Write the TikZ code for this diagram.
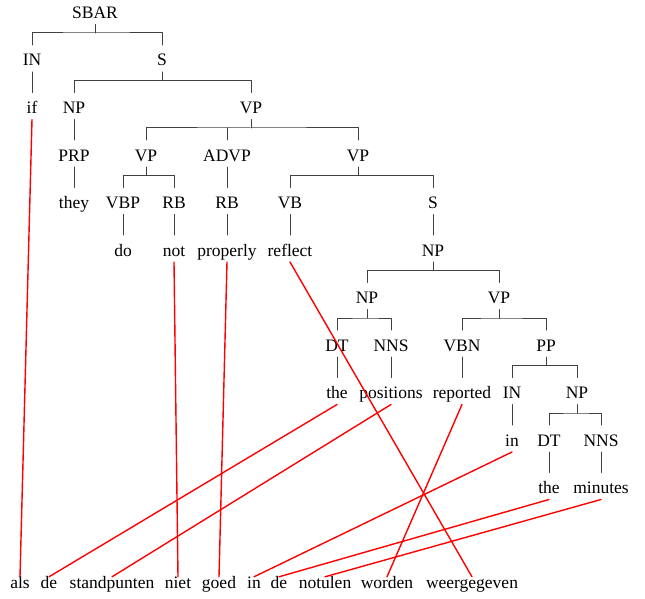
\documentclass[tikz,border=0pt]{standalone}
\usepackage{fontspec}
\setmainfont{Liberation Serif}
\begin{document}
\begin{tikzpicture}[x=1pt,y=-1pt,line cap=round,line join=round,
	tag/.style={anchor=base,inner xsep=1pt,inner ysep=0pt,outer ysep=3pt,
		text height=18pt,text depth=3pt,font=\fontsize{17.5}{18}\selectfont},
	word/.style={anchor=base,inner sep=0pt,text height=11pt,text depth=3pt,
		font=\fontsize{17.5}{18}\selectfont},
	branch/.style={draw=black!75,line width=1pt},
	link/.style={draw=red,line width=1.4pt}]
	\useasboundingbox (0,0) rectangle (645,599);
	% tree, row by row
	\node[tag] (sbar) at (95,18.5) {SBAR};
	\node[tag] (in) at (32,66) {IN};
	\node[tag] (s) at (162,66) {S};
	\node[tag] (wif) at (32,113.5) {if};
	\node[tag] (np) at (74,113.5) {NP};
	\node[tag] (vp) at (251,113.5) {VP};
	\node[tag] (prp) at (74,161) {PRP};
	\node[tag] (vpa) at (146,161) {VP};
	\node[tag] (advp) at (227,161) {ADVP};
	\node[tag] (vpb) at (358,161) {VP};
	\node[tag] (wthey) at (74,208.5) {they};
	\node[tag] (vbp) at (123,208.5) {VBP};
	\node[tag] (rba) at (174,208.5) {RB};
	\node[tag] (rbb) at (227,208.5) {RB};
	\node[tag] (vb) at (290,208.5) {VB};
	\node[tag] (sb) at (433,208.5) {S};
	\node[tag] (wdo) at (123,256) {do};
	\node[tag] (wnot) at (174,256) {not};
	\node[tag] (wproperly) at (227,256) {properly};
	\node[tag] (wreflect) at (290,256) {reflect};
	\node[tag] (npa) at (433,256) {NP};
	\node[tag] (npb) at (367,303.5) {NP};
	\node[tag] (vpc) at (499,303.5) {VP};
	\node[tag] (dta) at (337,351) {DT};
	\node[tag] (nnsa) at (391,351) {NNS};
	\node[tag] (vbn) at (462,351) {VBN};
	\node[tag] (pp) at (546,351) {PP};
	\node[tag] (wthe) at (337,398.5) {the};
	\node[tag] (wpositions) at (391,398.5) {positions};
	\node[tag] (wreported) at (462,398.5) {reported};
	\node[tag] (inb) at (512,398.5) {IN};
	\node[tag] (npc) at (577,398.5) {NP};
	\node[tag] (win) at (512,446) {in};
	\node[tag] (dtb) at (549,446) {DT};
	\node[tag] (nnsb) at (601,446) {NNS};
	\node[tag] (wtheb) at (549,493.5) {the};
	\node[tag] (wminutes) at (601,493.5) {minutes};

	% branches with two or more children
	\path[branch] (sbar.south) -- ++(0,8.5) coordinate (b1);
	\path[branch] (in.north) |- (b1) -| (s.north);
	\path[branch] (s.south) -- ++(0,8.5) coordinate (b2);
	\path[branch] (np.north) |- (b2) -| (vp.north);
	\path[branch] (vp.south) -- ++(0,8.5) coordinate (b3);
	\path[branch] (vpa.north) |- (b3) -| (vpb.north);
	\path[branch] (advp.north) -- (advp.north |- b3);
	\path[branch] (vpa.south) -- ++(0,8.5) coordinate (b4);
	\path[branch] (vbp.north) |- (b4) -| (rba.north);
	\path[branch] (vpb.south) -- ++(0,8.5) coordinate (b5);
	\path[branch] (vb.north) |- (b5) -| (sb.north);
	\path[branch] (npa.south) -- ++(0,8.5) coordinate (b6);
	\path[branch] (npb.north) |- (b6) -| (vpc.north);
	\path[branch] (npb.south) -- ++(0,8.5) coordinate (b7);
	\path[branch] (dta.north) |- (b7) -| (nnsa.north);
	\path[branch] (vpc.south) -- ++(0,8.5) coordinate (b8);
	\path[branch] (vbn.north) |- (b8) -| (pp.north);
	\path[branch] (pp.south) -- ++(0,8.5) coordinate (b9);
	\path[branch] (inb.north) |- (b9) -| (npc.north);
	\path[branch] (npc.south) -- ++(0,8.5) coordinate (b10);
	\path[branch] (dtb.north) |- (b10) -| (nnsb.north);
	% single children
	\path[branch] (in.south) -- (wif.north);
	\path[branch] (np.south) -- (prp.north);
	\path[branch] (prp.south) -- (wthey.north);
	\path[branch] (advp.south) -- (rbb.north);
	\path[branch] (vbp.south) -- (wdo.north);
	\path[branch] (rba.south) -- (wnot.north);
	\path[branch] (rbb.south) -- (wproperly.north);
	\path[branch] (vb.south) -- (wreflect.north);
	\path[branch] (sb.south) -- (npa.north);
	\path[branch] (dta.south) -- (wthe.north);
	\path[branch] (nnsa.south) -- (wpositions.north);
	\path[branch] (vbn.south) -- (wreported.north);
	\path[branch] (inb.south) -- (win.north);
	\path[branch] (dtb.south) -- (wtheb.north);
	\path[branch] (nnsb.south) -- (wminutes.north);

	% dutch sentence
	\node[word] (dals) at (20,588) {als};
	\node[word] (dde) at (49,588) {de};
	\node[word] (dstandpunten) at (112,588) {standpunten};
	\node[word] (dniet) at (178,588) {niet};
	\node[word] (dgoed) at (219,588) {goed};
	\node[word] (din) at (254,588) {in};
	\node[word] (ddeb) at (279,588) {de};
	\node[word] (dnotulen) at (325,588) {notulen};
	\node[word] (dworden) at (387,588) {worden};
	\node[word] (dweergegeven) at (472,588) {weergegeven};

	% alignment
	\path[link] (wif.south) -- (dals.north);
	\path[link] (wthe.south) -- (dde.north);
	\path[link] (wpositions.south) -- (dstandpunten.north);
	\path[link] (wnot.south) -- (dniet.north);
	\path[link] (wproperly.south) -- (dgoed.north);
	\path[link] (wreflect.south) -- (dweergegeven.north);
	\path[link] (wreported.south) -- (dworden.north);
	\path[link] (win.south) -- (din.north);
	\path[link] (wtheb.south) -- (ddeb.north);
	\path[link] (wminutes.south) -- (dnotulen.north);
\end{tikzpicture}
\end{document}
